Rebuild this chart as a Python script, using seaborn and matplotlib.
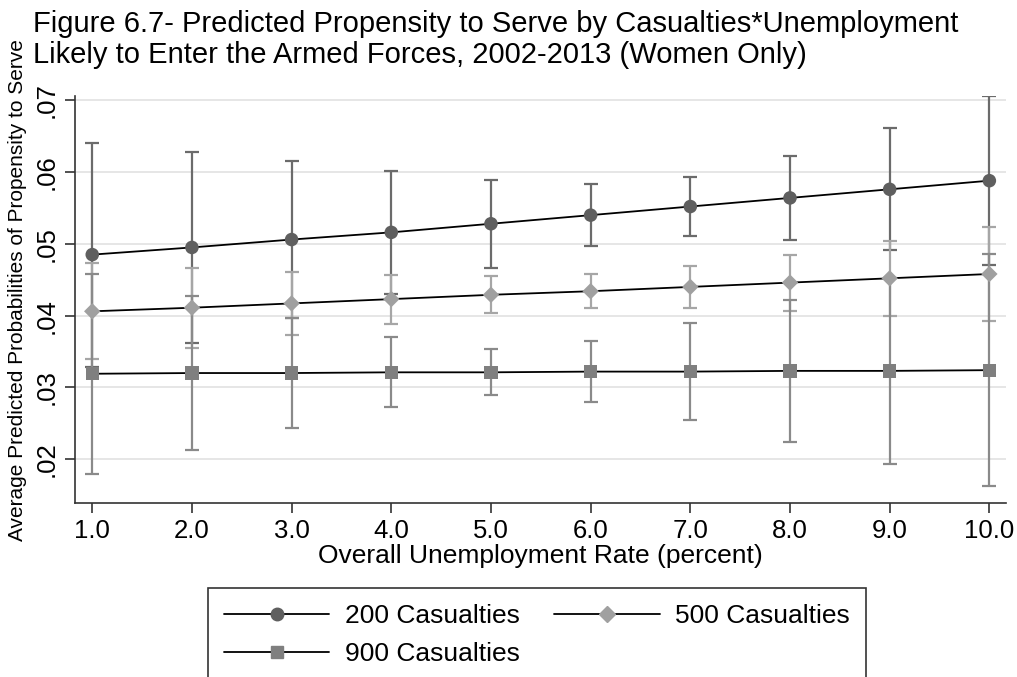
import numpy as np
import pandas as pd
import matplotlib
matplotlib.use("Agg")
import matplotlib.pyplot as plt
import seaborn as sns
from matplotlib.lines import Line2D

# ---------------- data ----------------
unemployment = [1.0, 2.0, 3.0, 4.0, 5.0, 6.0, 7.0, 8.0, 9.0, 10.0]
x_tick_labels = ["1.0", "2.0", "3.0", "4.0", "5.0", "6.0", "7.0", "8.0", "9.0", "10.0"]

pred_200 = [0.0485, 0.0495, 0.0506, 0.0516, 0.0528, 0.0540, 0.0552, 0.0564, 0.0576, 0.0588]
ci_200 = [0.0156, 0.0133, 0.0109, 0.0086, 0.0061, 0.0043, 0.0041, 0.0059, 0.0085, 0.0118]

pred_500 = [0.0406, 0.0411, 0.0417, 0.0423, 0.0429, 0.0434, 0.0440, 0.0446, 0.0452, 0.0458]
ci_500 = [0.0067, 0.0056, 0.0044, 0.0034, 0.0026, 0.0024, 0.0029, 0.0039, 0.0052, 0.0065]

pred_900 = [0.0319, 0.0320, 0.0320, 0.0321, 0.0321, 0.0322, 0.0322, 0.0323, 0.0323, 0.0324]
ci_900 = [0.0139, 0.0107, 0.0076, 0.0049, 0.0032, 0.0042, 0.0068, 0.0099, 0.0130, 0.0162]

y_ticks = [0.02, 0.03, 0.04, 0.05, 0.06, 0.07]
y_tick_labels = [".02", ".03", ".04", ".05", ".06", ".07"]

series_labels = ["200 Casualties", "500 Casualties", "900 Casualties"]

title_line1 = "Figure 6.7- Predicted Propensity to Serve by Casualties*Unemployment"
title_line2 = "Likely to Enter the Armed Forces, 2002-2013 (Women Only)"
x_label = "Overall Unemployment Rate (percent)"
y_label = "Average Predicted Probabilities of Propensity to Serve"

# ---------------- styling ----------------
marker_colors = {"200 Casualties": "#5f5f5f", "500 Casualties": "#a0a0a0", "900 Casualties": "#7f7f7f"}
bar_colors = {"200 Casualties": "#6b6b6b", "500 Casualties": "#a6a6a6", "900 Casualties": "#8a8a8a"}
marker_shapes = {"200 Casualties": "o", "500 Casualties": "D", "900 Casualties": "s"}
marker_sizes = {"200 Casualties": 95, "500 Casualties": 70, "900 Casualties": 92}

sns.set_theme(style="white")
plt.rcParams["font.family"] = ["Liberation Sans", "DejaVu Sans"]
plt.rcParams["text.color"] = "black"
plt.rcParams["axes.labelcolor"] = "black"
plt.rcParams["xtick.color"] = "black"
plt.rcParams["ytick.color"] = "black"

frames = []
for lab, p, c in zip(series_labels, [pred_200, pred_500, pred_900], [ci_200, ci_500, ci_900]):
    frames.append(pd.DataFrame({"unemployment": unemployment, "prob": p, "ci": c, "series": lab}))
df = pd.concat(frames, ignore_index=True)

fig = plt.figure(figsize=(10.17, 6.77), dpi=100)
ax = fig.add_axes([75.3 / 1017, 1 - 503.3 / 677, (1006 - 75.3) / 1017, (503.3 - 96) / 677])

# error bars
for lab in series_labels:
    d = df[df["series"] == lab]
    ax.errorbar(d["unemployment"], d["prob"], yerr=d["ci"], fmt="none",
                ecolor=bar_colors[lab], elinewidth=1.6, capsize=5, capthick=1.6, zorder=2)

# connecting lines
sns.lineplot(data=df, x="unemployment", y="prob", units="series", estimator=None,
             color="black", lw=1.3, ax=ax, zorder=3, legend=False)

# markers
sns.scatterplot(data=df, x="unemployment", y="prob", hue="series", style="series",
                size="series", sizes=marker_sizes, palette=marker_colors,
                markers=marker_shapes, linewidth=0, ax=ax, zorder=4, legend=False)

ax.set_xlim(0.83, 10.167)
ax.set_ylim(0.01385, 0.0706)
ax.set_xticks(unemployment)
ax.set_xticklabels(x_tick_labels, fontsize=18.5)
ax.set_yticks(y_ticks)
ax.set_yticklabels(y_tick_labels, fontsize=18.5, rotation=90, va="center")
ax.tick_params(axis="both", direction="out", length=7, width=1.2, color="#333333",
               labelcolor="black", bottom=True, left=True)
ax.tick_params(axis="x", pad=4)
ax.tick_params(axis="y", pad=5)

ax.yaxis.grid(True, color="#e6e6e6", lw=1.4)
ax.xaxis.grid(False)
ax.set_axisbelow(True)
for s in ["top", "right"]:
    ax.spines[s].set_visible(False)
for s in ["left", "bottom"]:
    ax.spines[s].set_color("#333333")
    ax.spines[s].set_linewidth(1.2)

ax.set_xlabel(x_label, fontsize=19, labelpad=1, color="black")
ax.set_ylabel("")
fig.text(18 / 1017, 1 - 290 / 677, y_label, rotation=90, ha="center", va="center",
         fontsize=15, color="black")

fig.text(33 / 1017, 1 - 32 / 677, title_line1, ha="left", va="baseline", fontsize=21, color="black")
fig.text(33 / 1017, 1 - 63 / 677, title_line2, ha="left", va="baseline", fontsize=21, color="black")

# legend (row-major in the reference: 200, 500 / 900)
legend_order = ["200 Casualties", "900 Casualties", "500 Casualties"]
handles = []
for lab in legend_order:
    handles.append(Line2D([0], [0], color="black", lw=1.3, marker=marker_shapes[lab],
                          markersize=9 if lab != "500 Casualties" else 8,
                          markerfacecolor=marker_colors[lab], markeredgecolor=marker_colors[lab]))
leg = fig.legend(handles, legend_order, ncol=2, loc="upper left",
                 bbox_to_anchor=(208 / 1017, 1 - 588 / 677, (866 - 208) / 1017, 0.0),
                 mode="expand", fontsize=19, frameon=True, fancybox=False,
                 handlelength=4.0, handletextpad=0.6, columnspacing=2.0,
                 borderpad=0.6, labelspacing=0.55, borderaxespad=0)
leg.get_frame().set_edgecolor("black")
leg.get_frame().set_linewidth(1.2)
for t in leg.get_texts():
    t.set_color("black")

fig.savefig("out.png", dpi=100)
